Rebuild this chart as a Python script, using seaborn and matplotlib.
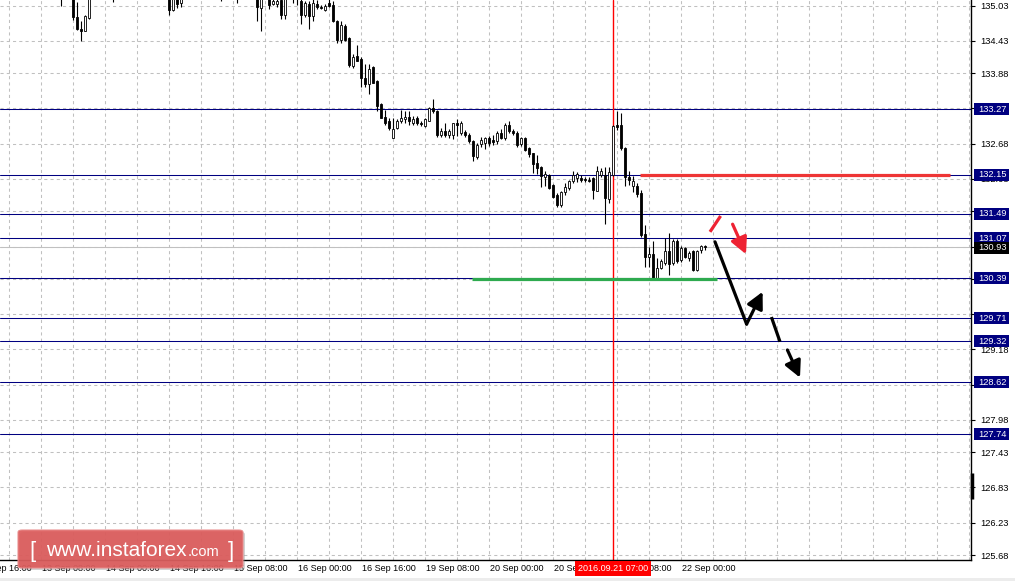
import numpy as np
import matplotlib
matplotlib.use("Agg")
import matplotlib.pyplot as plt
import matplotlib.transforms as mtransforms
from matplotlib.patches import Rectangle, FancyBboxPatch
import seaborn as sns

# ── hourly candles, bar index = trading hours after 13 Sep 08:00 ──
bar_idx = [5, 8, 9, 10, 11, 12, 18, 32, 33, 34, 35, 45, 49, 54, 55, 57, 58,
           59, 60, 61, 63, 64] + list(range(65, 167))

opens = [135.30, 135.25, 134.84, 134.64, 134.60, 134.82, 135.30, 135.25, 134.96, 135.20,
         135.07, 135.30, 135.25, 135.25, 134.99, 135.20, 135.05, 135.06, 135.13, 134.87,
         135.20, 135.25,
         135.10, 134.87, 135.06, 134.85, 135.06, 135.01, 134.96, 135.07, 135.04, 134.77,
         134.44, 134.68, 134.47, 134.00, 134.17, 134.12, 133.79, 133.70, 133.98, 133.75,
         133.36, 133.14, 133.07, 132.77, 132.94, 133.06, 133.10, 133.14, 133.04, 133.11,
         133.04, 132.98, 133.07, 133.28, 133.23, 132.83, 132.89, 132.83, 132.83, 133.03,
         132.86, 132.88, 132.83, 132.72, 132.46, 132.67, 132.69, 132.78, 132.75, 132.72,
         132.87, 132.77, 133.00, 132.90, 132.86, 132.68, 132.77, 132.60, 132.52, 132.35,
         132.29, 132.11, 132.15, 131.98, 131.81, 131.64, 131.85, 131.92, 132.04, 132.09,
         132.09, 132.08, 132.07, 132.09, 131.88, 132.15, 132.15, 131.74, 132.15, 133.00,
         133.00, 132.60, 132.11, 131.96, 131.96, 131.84, 131.15, 130.75, 130.81, 130.38,
         130.56, 130.65, 130.85, 130.65, 131.02, 130.70, 130.90, 130.73, 130.85, 130.53,
         130.87, 130.94]
highs = [135.40, 135.35, 135.09, 134.76, 134.87, 135.35, 135.40, 135.35, 135.30, 135.30,
         135.28, 135.40, 135.40, 135.35, 135.30, 135.30, 135.15, 135.18, 135.25, 135.25,
         135.35, 135.35,
         135.15, 135.10, 135.10, 135.14, 135.13, 135.04, 135.06, 135.14, 135.11, 134.79,
         134.77, 134.72, 134.50, 134.21, 134.36, 134.16, 134.03, 134.03, 134.00, 133.77,
         133.37, 133.26, 133.12, 133.11, 133.10, 133.26, 133.24, 133.23, 133.15, 133.15,
         133.07, 133.11, 133.31, 133.44, 133.26, 132.94, 133.03, 132.93, 133.04, 133.10,
         133.06, 132.92, 132.86, 132.75, 132.69, 132.80, 132.80, 132.81, 132.83, 132.89,
         132.93, 133.03, 133.07, 132.93, 132.89, 132.80, 132.80, 132.62, 132.53, 132.49,
         132.30, 132.22, 132.17, 132.00, 131.84, 131.87, 132.01, 132.07, 132.22, 132.19,
         132.15, 132.12, 132.11, 132.11, 132.30, 132.26, 132.29, 132.29, 133.00, 133.23,
         133.20, 132.63, 132.21, 132.13, 132.01, 131.89, 131.30, 130.93, 131.02, 130.73,
         130.72, 131.07, 131.16, 131.05, 131.05, 130.94, 130.93, 130.85, 130.87, 130.87,
         130.96, 130.95]
lows = [135.02, 134.79, 134.62, 134.43, 134.59, 134.81, 135.09, 134.87, 134.93, 134.99,
        135.01, 135.10, 135.08, 134.77, 134.60, 134.97, 135.04, 135.01, 134.80, 134.80,
        135.08, 135.04,
        134.72, 134.83, 134.63, 134.77, 134.97, 134.97, 134.94, 135.01, 134.75, 134.40,
        134.40, 134.43, 133.99, 133.96, 134.08, 133.64, 133.64, 133.53, 133.71, 133.24,
        133.11, 133.00, 132.92, 132.77, 132.93, 133.04, 133.03, 133.00, 133.00, 133.00,
        132.98, 132.96, 133.06, 133.21, 132.80, 132.80, 132.80, 132.77, 132.76, 132.81,
        132.83, 132.80, 132.70, 132.39, 132.42, 132.62, 132.59, 132.64, 132.66, 132.68,
        132.76, 132.75, 132.87, 132.83, 132.62, 132.64, 132.56, 132.46, 132.18, 132.17,
        131.95, 131.96, 131.91, 131.75, 131.61, 131.61, 131.81, 131.90, 132.01, 132.02,
        132.02, 132.02, 132.02, 131.74, 131.87, 132.12, 131.32, 131.67, 132.13, 132.92,
        132.58, 131.96, 131.98, 131.86, 131.78, 131.10, 130.58, 130.59, 130.37, 130.37,
        130.54, 130.62, 130.45, 130.62, 130.65, 130.66, 130.73, 130.69, 130.51, 130.51,
        130.82, 130.87]
closes = [135.25, 134.84, 134.64, 134.60, 134.85, 135.25, 135.25, 134.96, 135.20, 135.06,
          135.20, 135.25, 135.30, 135.01, 135.20, 135.04, 135.10, 135.11, 134.87, 135.14,
          135.25, 135.18,
          134.87, 135.07, 134.85, 135.07, 135.00, 134.99, 135.02, 135.02, 134.76, 134.44,
          134.70, 134.44, 134.02, 134.15, 134.09, 133.79, 133.70, 133.95, 133.72, 133.32,
          133.12, 133.04, 132.94, 132.93, 133.07, 133.11, 133.14, 133.06, 133.10, 133.03,
          133.01, 133.10, 133.28, 133.23, 132.83, 132.89, 132.83, 132.89, 133.03, 133.00,
          133.03, 132.83, 132.72, 132.47, 132.66, 132.75, 132.77, 132.69, 132.71, 132.86,
          132.77, 133.00, 132.89, 132.86, 132.66, 132.77, 132.58, 132.51, 132.34, 132.26,
          132.13, 132.16, 131.92, 131.78, 131.64, 131.85, 131.94, 132.04, 132.15, 132.17,
          132.07, 132.06, 132.05, 131.89, 132.21, 132.22, 131.75, 132.19, 132.98, 132.96,
          132.60, 132.11, 132.06, 132.05, 131.82, 131.13, 130.76, 130.81, 130.38, 130.56,
          130.68, 130.85, 130.64, 131.02, 130.68, 130.90, 130.75, 130.82, 130.53, 130.85,
          130.94, 130.93]

# ── horizontal levels and axis texts ──
level_prices = [133.27, 132.15, 131.49, 131.07, 130.39, 129.71, 129.32, 128.62, 127.74]
bid_price = 130.93
grid_prices = [135.03, 134.43, 133.88, 133.28, 132.68, 132.08, 131.53, 130.93, 130.38,
               129.78, 129.18, 128.58, 127.98, 127.43, 126.83, 126.23, 125.68]
# labels hidden behind the level boxes are left blank
grid_labels = ["135.03", "134.43", "133.88", "", "132.68", "132.08", "", "", "130.38",
               "", "129.18", "", "127.98", "127.43", "126.83", "126.23", "125.68"]
time_ticks = [-16, 0, 16, 32, 48, 64, 80, 96, 112, 128, 144, 160]
time_labels = ["12 Sep 16:00", "13 Sep 08:00", "14 Sep 00:00", "14 Sep 16:00",
               "15 Sep 08:00", "16 Sep 00:00", "16 Sep 16:00", "19 Sep 08:00",
               "20 Sep 00:00", "20 Sep 16:00", "21 Sep 08:00", "22 Sep 00:00"]
cursor_bar = 143
cursor_label = "2016.09.21 07:00"

# drawn zones (bar index, price)
resist_x = [149.75, 227.25]; resist_y = 132.15
support_x = [107.7, 168.9]; support_y = 130.37
red_dash = ([167.25, 169.9], [131.18, 131.45])
red_arrow = ((172.9, 131.31), (176.25, 130.80))
black_leg = ([168.5, 176.4], [131.01, 129.61])
black_up = ((176.4, 129.61), (180.4, 130.16))
black_dash = ([182.6, 184.75], [129.73, 129.31])
black_down = ((186.6, 129.17), (189.75, 128.70))

sns.set_theme(style="white")
plt.rcParams["font.family"] = ["Liberation Sans", "DejaVu Sans"]

W, H = 1015, 581
fig = plt.figure(figsize=(W / 100, H / 100), dpi=100)
ax = fig.add_axes([0, 21 / H, 971 / W, 560 / H])
ax.set_facecolor("white")
ax.set_xlim(-10.25, 232.5)
ax.set_ylim(125.596, 135.125)

for s in ["left", "top"]:
    ax.spines[s].set_visible(False)
for s in ["right", "bottom"]:
    ax.spines[s].set_color("black")
    ax.spines[s].set_linewidth(1.0)

# grid
ax.yaxis.tick_right()
ax.set_yticks(grid_prices)
ax.set_yticklabels(grid_labels)
ax.tick_params(axis="y", direction="out", length=3, width=0.8, pad=4,
               labelsize=6.7, colors="black")
ax.set_xticks([t for t in time_ticks if t >= 0])
ax.set_xticklabels([])
ax.set_xticks(np.arange(-8, 233, 8), minor=True)
ax.tick_params(axis="x", which="major", direction="out", length=4, width=0.8)
ax.tick_params(axis="x", which="minor", length=0)
ax.grid(axis="x", which="both", color="#c0c0c0", lw=0.75, ls=(0, (3, 3)))
ax.grid(axis="y", which="major", color="#c0c0c0", lw=0.75, ls=(0, (3, 3)))
ax.set_axisbelow(True)

# levels
for p in level_prices:
    ax.axhline(p, color="#000080", lw=0.75, zorder=1, snap=True)
ax.axhline(bid_price, color="#c0c0c0", lw=0.75, zorder=1, snap=True)
ax.axvline(cursor_bar, color="#ff0000", lw=1.0, zorder=2)

# candles
x = np.array(bar_idx, dtype=float)
o = np.array(opens); h = np.array(highs); l = np.array(lows); c = np.array(closes)
up = c >= o
ax.vlines(x, l, h, color="black", lw=0.8, zorder=3)
ax.bar(x[up], c[up] - o[up], bottom=o[up], width=0.6, color="white",
       edgecolor="black", linewidth=0.6, zorder=4)
ax.bar(x[~up], o[~up] - c[~up], bottom=c[~up], width=0.6, color="black",
       edgecolor="black", linewidth=0.6, zorder=4)

# zones and arrows
ax.plot(resist_x, [resist_y] * 2, color="#ee3535", lw=2.3, zorder=5, solid_capstyle="butt")
ax.plot(support_x, [support_y] * 2, color="#2eaa4f", lw=2.3, zorder=5, solid_capstyle="butt")
ax.plot(*red_dash, color="#ee2233", lw=2.3, zorder=6, solid_capstyle="butt")
ax.plot(*black_leg, color="black", lw=2.3, zorder=6)
ax.plot(*black_dash, color="black", lw=2.3, zorder=6, solid_capstyle="butt")
for (start, end), col in [(red_arrow, "#ee2233"), (black_up, "black"), (black_down, "black")]:
    ax.annotate("", xy=end, xytext=start,
                arrowprops=dict(arrowstyle="-|>,head_length=0.55,head_width=0.28",
                                color=col, lw=2.3, mutation_scale=18,
                                shrinkA=0, shrinkB=0), zorder=6)

# right axis boxes
ytr = mtransforms.blended_transform_factory(ax.transAxes, ax.transData)
bx0 = 974 / 971
bw = 35 / 971
bh = 12 * (135.125 - 125.596) / 560
for p in level_prices:
    ax.add_patch(Rectangle((bx0, p - bh / 2), bw, bh, transform=ytr, fc="#000080",
                           ec="none", clip_on=False, zorder=10))
    ax.text(978 / 971, p, f"{p:.2f}", transform=ytr, ha="left", va="center",
            color="white", fontsize=6.7, clip_on=False, zorder=11)
ax.add_patch(Rectangle((bx0, bid_price - bh / 2 - 0.02), bw, bh, transform=ytr, fc="black",
                       ec="none", clip_on=False, zorder=12))
ax.text(978 / 971, bid_price - 0.02, f"{bid_price:.2f}", transform=ytr, ha="left",
        va="center", color="white", fontsize=6.7, clip_on=False, zorder=13)
ax.plot([1.0015, 1.0015], [126.63, 127.08], transform=ytr, color="black", lw=2.5,
        clip_on=False, solid_capstyle="butt")

# time axis labels
xtr = mtransforms.blended_transform_factory(ax.transData, ax.transAxes)
for t, lab in zip(time_ticks, time_labels):
    ax.text(t + 0.3, -8.5 / 560, lab, transform=xtr, ha="left", va="center",
            fontsize=6.5, color="black", clip_on=False)
ax.text(cursor_bar, -8.5 / 560, cursor_label, transform=xtr, ha="center", va="center",
        fontsize=6.5, color="white", clip_on=False, zorder=12,
        bbox=dict(boxstyle="square,pad=0.32", fc="red", ec="none"))

# watermark
fig.patches.append(FancyBboxPatch((20 / W, 11 / H), 225 / W, 38 / H,
                                  boxstyle="round,pad=0,rounding_size=0.004",
                                  transform=fig.transFigure, fc="#808080", ec="none",
                                  alpha=0.35, zorder=20))
fig.patches.append(FancyBboxPatch((18 / W, 13 / H), 225 / W, 38 / H,
                                  boxstyle="round,pad=0,rounding_size=0.004",
                                  transform=fig.transFigure, fc="#dc5c5c", ec="#e88a8a",
                                  lw=0.8, alpha=0.93, zorder=21))
fig.text(29 / W, 24 / H, "[", fontsize=16, color="white", va="baseline", zorder=22)
fig.text(46 / W, 25 / H, "www.instaforex", fontsize=15, color="white", va="baseline",
         zorder=22)
fig.text(188 / W, 25 / H, ".com", fontsize=10.5, color="white", va="baseline", zorder=22)
fig.text(228 / W, 24 / H, "]", fontsize=16, color="white", va="baseline", zorder=22)

fig.patches.append(Rectangle((0, 0), 1, 3 / H, transform=fig.transFigure,
                             fc="#ececec", ec="none", zorder=0))

fig.savefig("out.png", dpi=100)
